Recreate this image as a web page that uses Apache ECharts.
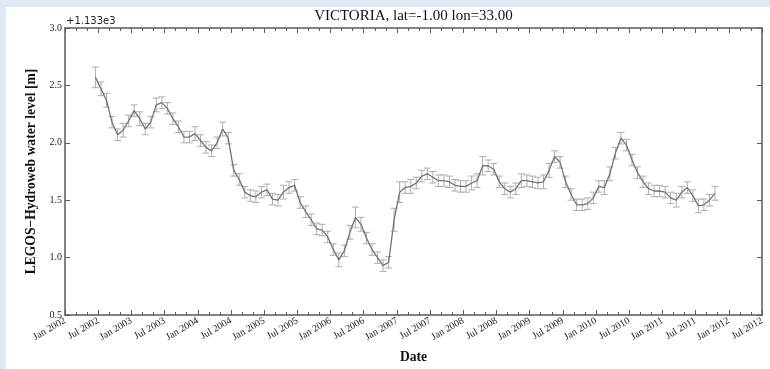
<!DOCTYPE html>
<html>
<head>
<meta charset="utf-8">
<script src="https://cdn.jsdelivr.net/npm/echarts@6/dist/echarts.min.js"></script>
<style>
  html, body { margin: 0; padding: 0; background: #e0e8f3; }
  #chart { width: 770px; height: 369px; }
</style>
</head>
<body>
<div id="chart"></div>
<script>
// Lake Victoria altimetry water level (relative to 1133 m), monthly samples
const months = [
  '2002-06','2002-07','2002-08','2002-09','2002-10','2002-11','2002-12',
  '2003-01','2003-02','2003-03','2003-04','2003-05','2003-06','2003-07','2003-08','2003-09','2003-10','2003-11','2003-12',
  '2004-01','2004-02','2004-03','2004-04','2004-05','2004-06','2004-07','2004-08','2004-09','2004-10','2004-11','2004-12',
  '2005-01','2005-02','2005-03','2005-04','2005-05','2005-06','2005-07','2005-08','2005-09','2005-10','2005-11','2005-12',
  '2006-01','2006-02','2006-03','2006-04','2006-05','2006-06','2006-07','2006-08','2006-09','2006-10','2006-11','2006-12',
  '2007-01','2007-02','2007-03','2007-04','2007-05','2007-06','2007-07','2007-08','2007-09','2007-10','2007-11','2007-12',
  '2008-01','2008-02','2008-03','2008-04','2008-05','2008-06','2008-07','2008-08','2008-09','2008-10','2008-11','2008-12',
  '2009-01','2009-02','2009-03','2009-04','2009-05','2009-06','2009-07','2009-08','2009-09','2009-10','2009-11','2009-12',
  '2010-01','2010-02','2010-03','2010-04','2010-05','2010-06','2010-07','2010-08','2010-09','2010-10','2010-11','2010-12',
  '2011-01','2011-02','2011-03','2011-04','2011-05','2011-06','2011-07','2011-08','2011-09','2011-10'
];

const levels = [
  2.57, 2.47, 2.37, 2.18, 2.07, 2.11, 2.19,
  2.28, 2.21, 2.12, 2.18, 2.33, 2.35, 2.30, 2.21, 2.14, 2.05, 2.05, 2.08,
  2.02, 1.96, 1.93, 2.00, 2.12, 2.04, 1.76, 1.68, 1.57, 1.54, 1.53, 1.57,
  1.59, 1.51, 1.50, 1.57, 1.61, 1.63, 1.48, 1.40, 1.33, 1.25, 1.24, 1.18,
  1.07, 0.98, 1.06, 1.22, 1.35, 1.29, 1.17, 1.07, 1.00, 0.93, 0.96, 1.33,
  1.57, 1.61, 1.62, 1.65, 1.71, 1.73, 1.70, 1.67, 1.67, 1.66, 1.63, 1.62,
  1.62, 1.65, 1.67, 1.80, 1.80, 1.77, 1.66, 1.60, 1.57, 1.60, 1.67, 1.67,
  1.66, 1.65, 1.66, 1.76, 1.88, 1.83, 1.66, 1.55, 1.46, 1.46, 1.47, 1.52,
  1.62, 1.61, 1.73, 1.91, 2.04, 1.98, 1.85, 1.74, 1.66, 1.60, 1.58, 1.58,
  1.57, 1.52, 1.50, 1.57, 1.61, 1.54, 1.45, 1.46, 1.50, 1.56
];

const errors = [
  0.09, 0.06, 0.06, 0.05, 0.05, 0.06, 0.05,
  0.05, 0.06, 0.05, 0.05, 0.06, 0.05, 0.05, 0.05, 0.05, 0.05, 0.05, 0.06,
  0.05, 0.05, 0.05, 0.05, 0.06, 0.05, 0.05, 0.05, 0.05, 0.05, 0.05, 0.05,
  0.05, 0.05, 0.05, 0.06, 0.05, 0.05, 0.05, 0.05, 0.05, 0.05, 0.05, 0.05,
  0.05, 0.06, 0.05, 0.06, 0.09, 0.06, 0.05, 0.05, 0.05, 0.05, 0.05, 0.10,
  0.09, 0.05, 0.06, 0.05, 0.05, 0.05, 0.05, 0.05, 0.05, 0.05, 0.05, 0.05,
  0.05, 0.06, 0.06, 0.08, 0.05, 0.05, 0.05, 0.05, 0.05, 0.05, 0.06, 0.05,
  0.05, 0.05, 0.06, 0.06, 0.05, 0.05, 0.05, 0.05, 0.05, 0.05, 0.05, 0.05,
  0.05, 0.06, 0.06, 0.05, 0.05, 0.05, 0.05, 0.05, 0.05, 0.05, 0.05, 0.05,
  0.05, 0.05, 0.06, 0.05, 0.05, 0.05, 0.06, 0.05, 0.05, 0.06
];

const levelOffset = '+1.133e3';

const xTickLabels = [
  'Jan 2002','Jul 2002','Jan 2003','Jul 2003','Jan 2004','Jul 2004',
  'Jan 2005','Jul 2005','Jan 2006','Jul 2006','Jan 2007','Jul 2007',
  'Jan 2008','Jul 2008','Jan 2009','Jul 2009','Jan 2010','Jul 2010',
  'Jan 2011','Jul 2011','Jan 2012','Jul 2012'
];

const yTicks = [0.5, 1.0, 1.5, 2.0, 2.5, 3.0];

// months since Jan 2002, placed at mid-month
function monthPos(s) {
  const [y, m] = s.split('-').map(Number);
  return (y - 2002) * 12 + (m - 1) + 0.5;
}

const lineData = months.map((m, i) => [monthPos(m), levels[i]]);
const errData = months.map((m, i) => [monthPos(m), levels[i] - errors[i], levels[i] + errors[i]]);

const serif = 'Liberation Serif';
const axisColor = '#5a5a5a';
const xMax = (xTickLabels.length - 1) * 6;

function xAxisDef(pos, showLabel) {
  return {
    type: 'value', position: pos, min: 0, max: xMax, interval: 6,
    axisLine: { show: true, onZero: false, lineStyle: { color: axisColor, width: 1.5 } },
    axisTick: { show: true, inside: true, length: 5, lineStyle: { color: axisColor, width: 1 } },
    minorTick: { show: true, splitNumber: 3, length: 3, lineStyle: { color: axisColor, width: 1 } },
    splitLine: { show: false },
    axisLabel: {
      show: showLabel, rotate: 30, margin: 5,
      fontFamily: serif, fontSize: 10, color: '#222',
      formatter: v => xTickLabels[Math.round(v / 6)] || ''
    }
  };
}

function yAxisDef(pos, showLabel) {
  return {
    type: 'value', position: pos,
    min: yTicks[0], max: yTicks[yTicks.length - 1], interval: 0.5,
    axisLine: { show: true, onZero: false, lineStyle: { color: axisColor, width: 1.5 } },
    axisTick: { show: true, inside: true, length: 5, lineStyle: { color: axisColor, width: 1 } },
    splitLine: { show: false },
    axisLabel: {
      show: showLabel, margin: 3,
      fontFamily: serif, fontSize: 10, color: '#222',
      formatter: v => v.toFixed(1)
    }
  };
}

const chart = echarts.init(document.getElementById('chart'), null, { renderer: 'canvas' });

const yLeft = yAxisDef('left', true);
yLeft.name = 'LEGOS\u2212Hydroweb water level [m]';
yLeft.nameLocation = 'middle';
yLeft.nameGap = 27;
yLeft.nameTextStyle = { fontFamily: serif, fontWeight: 'bold', fontSize: 13.6, color: '#111' };

const xBottom = xAxisDef('bottom', true);
xBottom.name = 'Date';
xBottom.nameLocation = 'middle';
xBottom.nameGap = 35;
xBottom.nameTextStyle = { fontFamily: serif, fontWeight: 'bold', fontSize: 13.6, color: '#111' };

chart.setOption({
  animation: false,
  backgroundColor: 'transparent',
  grid: { left: 65, right: 8, top: 28, bottom: 47, containLabel: false },
  graphic: [
    { type: 'rect', z: -10, shape: { x: 6, y: 7, width: 770, height: 369 }, style: { fill: '#ffffff' } },
    {
      type: 'text', x: 413.5, y: 24,
      style: {
        text: 'VICTORIA, lat=-1.00 lon=33.00', fontFamily: serif, fontSize: 15,
        fill: '#111', textAlign: 'center', textVerticalAlign: 'bottom'
      }
    },
    {
      type: 'text', x: 66, y: 26,
      style: {
        text: levelOffset, fontFamily: 'DejaVu Sans', fontSize: 10,
        fill: '#222', textAlign: 'left', textVerticalAlign: 'bottom'
      }
    }
  ],
  xAxis: [xBottom, xAxisDef('top', false)],
  yAxis: [yLeft, yAxisDef('right', false)],
  series: [
    {
      type: 'custom',
      xAxisIndex: 0, yAxisIndex: 0,
      data: errData,
      z: 2,
      renderItem: function (params, api) {
        const x = api.value(0);
        const lo = api.coord([x, api.value(1)]);
        const hi = api.coord([x, api.value(2)]);
        const cap = 3.5;
        const style = { stroke: '#adadad', lineWidth: 1 };
        return {
          type: 'group',
          children: [
            { type: 'line', shape: { x1: lo[0], y1: lo[1], x2: hi[0], y2: hi[1] }, style: style },
            { type: 'line', shape: { x1: lo[0] - cap, y1: lo[1], x2: lo[0] + cap, y2: lo[1] }, style: style },
            { type: 'line', shape: { x1: hi[0] - cap, y1: hi[1], x2: hi[0] + cap, y2: hi[1] }, style: style }
          ]
        };
      }
    },
    {
      type: 'line',
      xAxisIndex: 0, yAxisIndex: 0,
      data: lineData,
      z: 3,
      showSymbol: false,
      symbol: 'none',
      lineStyle: { color: '#727272', width: 1.3 }
    }
  ]
});
</script>
</body>
</html>
